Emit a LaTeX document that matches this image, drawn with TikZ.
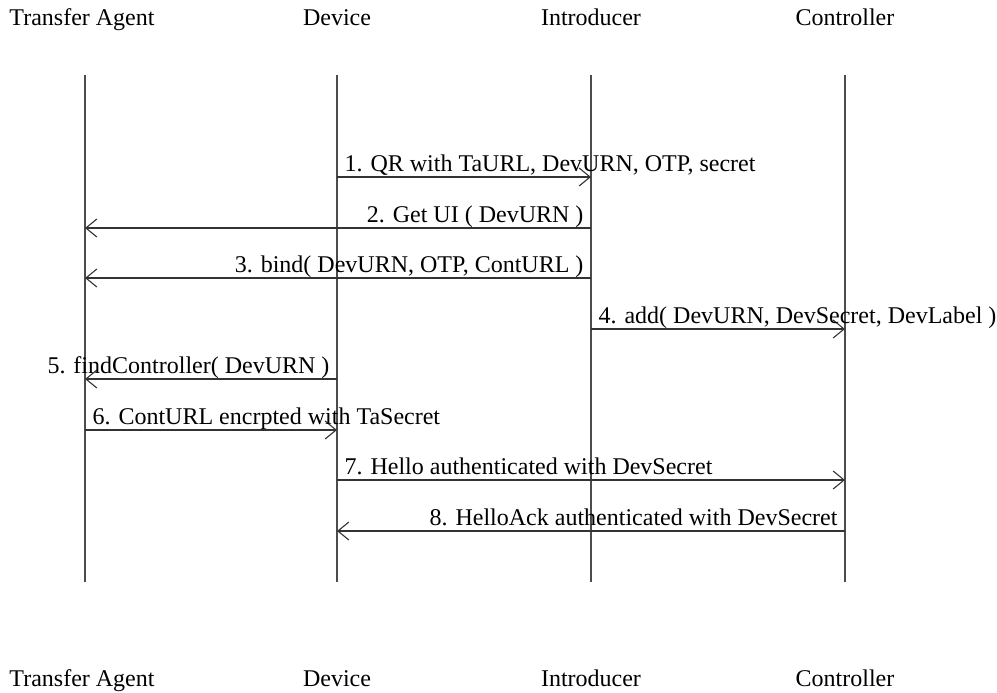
\documentclass[tikz,border=0pt]{standalone}
\usepackage{fontspec}
\setmainfont{Liberation Serif}
\usetikzlibrary{arrows.meta}
\begin{document}
\begin{tikzpicture}[x=0.5pt,y=-0.5pt,
  actor/.style={inner sep=0pt,anchor=base,font=\fontsize{12pt}{14pt}\selectfont},
  life/.style={draw=black!70,line width=0.55pt},
  msg/.style={draw=black!80,line width=0.55pt,-{Straight Barb[length=5.5pt,width=9pt,line width=0.55pt]}},
  lblL/.style={pos=0,inner sep=0pt,anchor=base west,xshift=3.5pt,yshift=3pt,font=\fontsize{12pt}{14pt}\selectfont},
  lblR/.style={pos=0,inner sep=0pt,anchor=base east,xshift=-3.5pt,yshift=3pt,font=\fontsize{12pt}{14pt}\selectfont}]
\useasboundingbox (0,0) rectangle (997,692);
% headers and footers
\node[actor] (taH) at (82,25) {Transfer Agent};
\node[actor] (dvH) at (337,25) {Device};
\node[actor] (inH) at (591,25) {Introducer};
\node[actor] (coH) at (845,25) {Controller};
\node[actor] (taF) at (82,686) {Transfer Agent};
\node[actor] (dvF) at (337,686) {Device};
\node[actor] (inF) at (591,686) {Introducer};
\node[actor] (coF) at (845,686) {Controller};
% lifelines
\foreach \n/\x in {ta/85,dv/337,in/591,co/845}{
  \coordinate (\n-top) at (\x,75);
  \coordinate (\n-bot) at (\x,582);
  \draw[life] (\n-top) -- (\n-bot);
  \foreach \k/\y in {1/177,2/228,3/278,4/329,5/379,6/430,7/480,8/531}{
    \coordinate (\n\k) at (\x,\y);
  }
}
% messages
\draw[msg] (dv1) -- node[lblL] {1. QR with TaURL, DevURN, OTP, secret} (in1);
\draw[msg] (in2) -- node[lblR] {2. Get UI ( DevURN )} (ta2);
\draw[msg] (in3) -- node[lblR] {3. bind( DevURN, OTP, ContURL )} (ta3);
\draw[msg] (in4) -- node[lblL] {4. add( DevURN, DevSecret, DevLabel )} (co4);
\draw[msg] (dv5) -- node[lblR] {5. findController( DevURN )} (ta5);
\draw[msg] (ta6) -- node[lblL] {6. ContURL encrpted with TaSecret} (dv6);
\draw[msg] (dv7) -- node[lblL] {7. Hello authenticated with DevSecret} (co7);
\draw[msg] (co8) -- node[lblR] {8. HelloAck authenticated with DevSecret} (dv8);
\end{tikzpicture}
\end{document}
